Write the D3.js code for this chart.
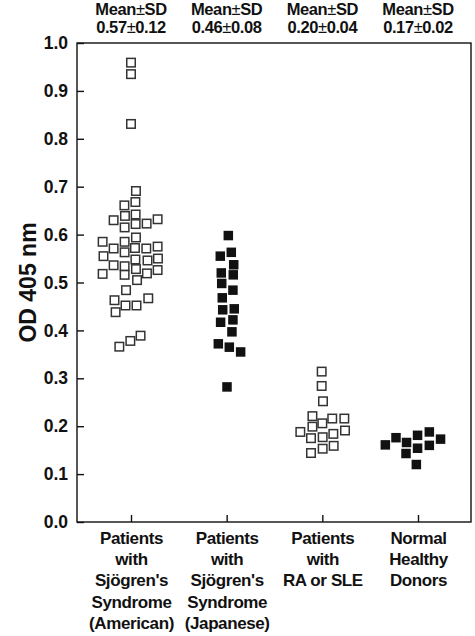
<!DOCTYPE html>
<html>
<head>
<meta charset="utf-8">
<script src="https://cdn.jsdelivr.net/npm/d3@7/dist/d3.min.js"></script>
<style>
  html, body { margin: 0; padding: 0; background: #fff; }
  svg { display: block; }
  text { font-family: "Liberation Sans", Arial, Helvetica, sans-serif; font-weight: bold; fill: #111; }
</style>
</head>
<body>
<script>
// ---- data ----
const categories = ["American SS", "Japanese SS", "RA or SLE", "Normal"];
const categoryLabels = [
  ["Patients", "with", "Sjögren's", "Syndrome", "(American)"],
  ["Patients", "with", "Sjögren's", "Syndrome", "(Japanese)"],
  ["Patients", "with", "RA or SLE"],
  ["Normal", "Healthy", "Donors"]
];
const summaryHeader = "Mean±SD";
const summaries = ["0.57±0.12", "0.46±0.08", "0.20±0.04", "0.17±0.02"];
const yTickValues = [0, 0.1, 0.2, 0.3, 0.4, 0.5, 0.6, 0.7, 0.8, 0.9, 1.0];
const yTitle = "OD 405 nm";

// OD values and horizontal spread (in marker-widths) per group
const americanValues = [0.959, 0.935, 0.831, 0.691, 0.661, 0.668, 0.639, 0.642, 0.630, 0.632, 0.623, 0.622, 0.615, 0.594, 0.585, 0.585, 0.571, 0.572, 0.571, 0.575, 0.563, 0.555, 0.548, 0.546, 0.550, 0.536, 0.534, 0.528, 0.526, 0.518, 0.516, 0.519, 0.505, 0.484, 0.463, 0.467, 0.452, 0.452, 0.438, 0.389, 0.378, 0.366];
const americanSpread = [0, 0, 0, 0.45, -0.6, 0.4, -0.55, 0.42, -1.58, 2.42, 1.42, 0.42, -0.58, 0.45, -2.58, -0.58, -1.58, 0.36, 1.39, 2.42, -0.58, -2.5, 0.4, 1.5, 2.45, -1.58, -0.58, 0.45, 2.42, -2.58, -0.58, 1.45, 0.55, -0.45, -1.5, 1.57, -0.5, 0.5, -1.4, 0.87, -0.06, -1.06];
const japaneseValues = [0.598, 0.555, 0.563, 0.537, 0.520, 0.516, 0.498, 0.484, 0.468, 0.443, 0.445, 0.417, 0.422, 0.397, 0.372, 0.365, 0.355, 0.282];
const japaneseSpread = [0.15, -0.58, 0.42, 0.64, -0.49, 0.6, -0.45, 0.57, -0.4, -0.36, 0.69, -0.55, 0.57, 0.48, -0.76, 0.24, 1.27, 0.03];
const raSleValues = [0.314, 0.284, 0.252, 0.221, 0.206, 0.216, 0.216, 0.188, 0.199, 0.175, 0.177, 0.184, 0.191, 0.144, 0.153, 0.159];
const raSleSpread = [-0.06, -0.06, 0.06, -0.9, 0, 0.9, 2, -2, -0.9, -1.03, 0.03, 1, 2.06, -1.03, 0.03, 1.03];
const normalValues = [0.161, 0.176, 0.166, 0.143, 0.181, 0.154, 0.188, 0.160, 0.173, 0.120];
const normalSpread = [-2.97, -2, -1.04, -1.09, -0.04, -0.04, 1.03, 1.03, 2.05, -0.15];

const groupValues = [americanValues, japaneseValues, raSleValues, normalValues];
const groupSpread = [americanSpread, japaneseSpread, raSleSpread, normalSpread];

// ---- layout ----
const W = 475, H = 636;
const mLeft = 77, mRight = 471, mTop = 43, mBottom = 522;
const filled = [false, true, false, true];
const mark = 10, slot = 11;

const svg = d3.select("body").append("svg").attr("width", W).attr("height", H);

const y = d3.scaleLinear().domain([0, 1]).range([mBottom, mTop]);
const x = d3.scalePoint().domain(categories).range([mLeft + 54, mRight - 53]);

// frame
svg.append("rect")
  .attr("x", mLeft).attr("y", mTop)
  .attr("width", mRight - mLeft).attr("height", mBottom - mTop)
  .attr("fill", "none").attr("stroke", "#111").attr("stroke-width", 1.4);

// y axis
const yAxis = svg.append("g").attr("transform", `translate(${mLeft},0)`)
  .call(d3.axisLeft(y).tickValues(yTickValues).tickFormat(d3.format(".1f"))
    .tickSizeInner(-7).tickSizeOuter(0).tickPadding(9));
yAxis.select(".domain").remove();
yAxis.selectAll(".tick line").attr("stroke", "#111").attr("stroke-width", 1.4);
yAxis.selectAll(".tick text").attr("font-size", 17.5).attr("fill", "#111")
  .attr("font-family", "Liberation Sans, Arial, sans-serif").attr("font-weight", "bold");

// x axis
const xAxis = svg.append("g").attr("transform", `translate(0,${mBottom})`)
  .call(d3.axisBottom(x).tickFormat("").tickSizeInner(-7).tickSizeOuter(0));
xAxis.select(".domain").remove();
xAxis.selectAll(".tick line").attr("stroke", "#111").attr("stroke-width", 1.4);
xAxis.selectAll(".tick").each(function(d, i) {
  const t = d3.select(this).append("text")
    .attr("text-anchor", "middle").attr("font-size", 17)
    .attr("letter-spacing", -0.4)
    .attr("fill", "#111");
  categoryLabels[i].forEach((line, j) => {
    t.append("tspan").attr("x", 0).attr("y", 22 + j * 21.2).text(line);
  });
});

// y title
svg.append("text")
  .attr("transform", `translate(36,${(mTop + mBottom) / 2}) rotate(-90)`)
  .attr("text-anchor", "middle").attr("font-size", 23)
  .text(yTitle);

// summaries on top (± drawn in lighter weight as in the original)
function writeWithPm(sel, str) {
  str.split("±").forEach((part, k) => {
    if (k > 0) sel.append("tspan").attr("font-weight", "normal").text("±");
    sel.append("tspan").text(part);
  });
}
const head = svg.append("g");
categories.forEach((c, i) => {
  const t1 = head.append("text").attr("x", x(c)).attr("y", 14.5)
    .attr("text-anchor", "middle").attr("font-size", 16.5).attr("letter-spacing", -0.4);
  writeWithPm(t1, summaryHeader);
  const t2 = head.append("text").attr("x", x(c)).attr("y", 33)
    .attr("text-anchor", "middle").attr("font-size", 16.5).attr("letter-spacing", -0.4);
  writeWithPm(t2, summaries[i]);
});

// points
categories.forEach((c, i) => {
  const pts = groupValues[i].map((v, k) => ({ v, s: groupSpread[i][k] }));
  const g = svg.append("g");
  const sw = 1.5;
  const size = filled[i] ? mark - 0.5 : mark - sw;
  g.selectAll("rect").data(pts).join("rect")
    .attr("x", d => x(c) + d.s * slot - size / 2)
    .attr("y", d => y(d.v) - size / 2)
    .attr("width", size)
    .attr("height", size)
    .attr("fill", filled[i] ? "#111" : "#fff")
    .attr("stroke", filled[i] ? "none" : "#333")
    .attr("stroke-width", sw);
});
</script>
</body>
</html>
